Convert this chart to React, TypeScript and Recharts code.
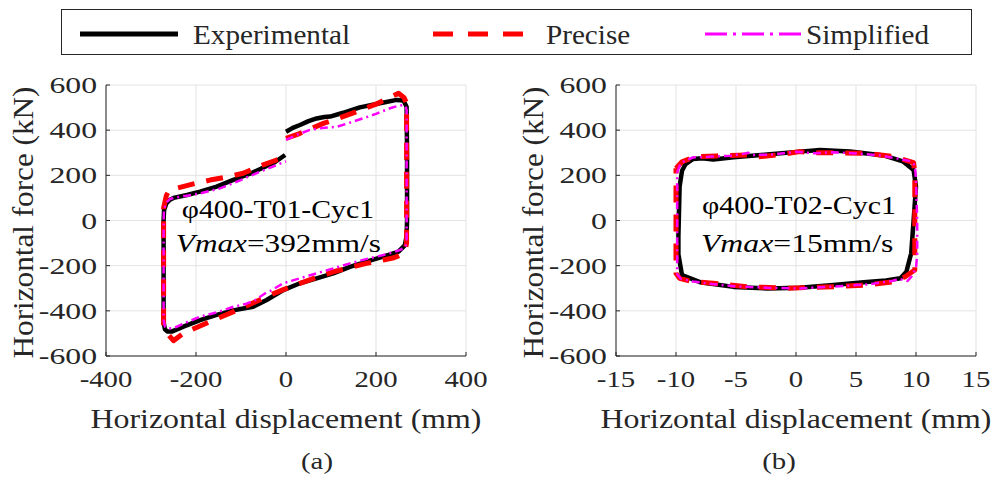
import {
  CartesianGrid,
  Legend,
  Line,
  LineChart,
  ReferenceDot,
  XAxis,
  YAxis,
} from 'recharts';

type Pt = { x: number; y: number };

const SERIF = "'Liberation Serif', 'Times New Roman', serif";
const INK = '#262626';

// (a) φ400-T01-Cyc1 — displacement (mm), force (kN)
const expA = [
  [0, 393], [15, 410], [31, 423], [50, 440], [68, 452], [85, 458], [98, 460],
  [127, 477], [164, 501], [209, 519], [246, 534], [261, 531], [268, 504],
  [269, 300], [269, 0], [268, -70], [264, -110], [250, -138], [216, -160],
  [179, -182], [142, -205], [105, -234], [68, -256], [31, -278], [-6, -308],
  [-43, -352], [-73, -382], [-95, -390], [-117, -398], [-154, -418],
  [-191, -441], [-228, -470], [-254, -492], [-264, -491], [-269, -482],
  [-272, -450], [-272, -200], [-272, 0], [-271, 45], [-266, 75], [-258, 92],
  [-250, 100], [-220, 113], [-191, 128], [-154, 150], [-117, 180],
  [-80, 207], [-50, 235], [-25, 258], [-2, 290],
];
const preA = [
  [0, 364], [30, 385], [60, 410], [83, 430], [120, 455], [157, 482],
  [200, 515], [225, 540], [250, 563], [262, 545], [268, 520], [268, 0],
  [268, -100], [265, -130], [258, -150], [240, -165], [216, -175],
  [179, -190], [142, -208], [105, -227], [68, -252], [31, -278], [-6, -306],
  [-43, -337], [-70, -362], [-95, -385], [-130, -415], [-169, -448],
  [-200, -475], [-228, -500], [-250, -532], [-268, -490], [-272, -470],
  [-272, 0], [-272, 55], [-266, 110], [-260, 132], [-243, 143], [-210, 160],
  [-169, 179], [-130, 193], [-95, 209], [-60, 240], [-21, 268], [0, 283],
];
const simA = [
  [0, 357], [25, 380], [53, 401], [80, 410], [113, 415], [140, 432],
  [172, 453], [200, 472], [231, 497], [250, 508], [261, 511], [266, 505],
  [268, 490], [268, -100], [265, -118], [253, -131], [230, -145],
  [216, -153], [180, -170], [142, -190], [105, -212], [68, -234], [31, -256],
  [-6, -278], [-35, -312], [-43, -318], [-70, -354], [-90, -370],
  [-117, -382], [-150, -405], [-191, -426], [-220, -450], [-250, -477],
  [-262, -478], [-269, -470], [-272, -440], [-272, 0], [-271, 50],
  [-266, 80], [-258, 95], [-250, 100], [-220, 110], [-191, 120],
  [-150, 140], [-117, 165], [-90, 188], [-58, 216], [-30, 238], [0, 262],
];

// (b) φ400-T02-Cyc1
const expB = [
  [-9.7, 150], [-9.5, 220], [-9.2, 250], [-8.6, 272], [-7.8, 276],
  [-6.9, 270], [-5.2, 280], [-2.4, 292], [0.3, 305], [2, 312], [4.5, 306],
  [7.3, 288], [8.9, 262], [9.8, 224], [10, 150], [9.9, 76], [9.8, 0],
  [9.6, -145], [9.2, -227], [8.7, -256], [7.5, -266], [5.9, -272],
  [3.1, -286], [0.3, -298], [-2.4, -301], [-5.2, -294], [-8, -273],
  [-9.5, -242], [-9.8, -150], [-9.8, -72], [-9.7, 150],
];
const preB = [
  [-10, 231], [-9.5, 260], [-8.4, 283], [-6.6, 286], [-4.1, 290],
  [-3.6, 280], [-1.6, 290], [0.3, 305], [1.4, 300], [3.1, 300], [5.9, 297],
  [8.1, 283], [9.8, 256], [9.9, 209], [9.9, 0], [9.9, -219], [9.1, -249],
  [8.1, -271], [5.9, -286], [3.1, -293], [-0.8, -300], [-4.1, -293],
  [-6.9, -278], [-8.6, -271], [-9.7, -256], [-10, -234], [-10, 0],
  [-10, 231],
];
const simB = [
  [-9.9, 215], [-9.6, 255], [-8.6, 279], [-7, 283], [-5.5, 287],
  [-4.3, 296], [-4, 300], [-3.6, 290], [-2, 292], [0, 304], [1.5, 298],
  [3.1, 302], [5, 297], [7, 288], [8.5, 274], [9.6, 262], [9.9, 245],
  [10, 180], [10.1, 0], [10.1, -150], [10, -210], [9.6, -250], [9.3, -268],
  [8.6, -258], [8, -268], [6, -283], [3.1, -293], [0.3, -301], [-2.4, -298],
  [-5.2, -291], [-7, -281], [-8.6, -270], [-9.6, -258], [-9.9, -238],
  [-9.9, 0], [-9.9, 215],
];

const yTicks = [-600, -400, -200, 0, 200, 400, 600];
const xTicksA = [-400, -200, 0, 200, 400];
const xTicksB = [-15, -10, -5, 0, 5, 10, 15];

const seriesNames = ['Experimental', 'Precise', 'Simplified'];

const toPts = (a: number[][]): Pt[] => a.map(([x, y]) => ({ x, y }));

const SERIES = [
  { color: '#000000', width: 4.5, dash: undefined, legendWidth: 5, legendDash: undefined },
  { color: '#ff0000', width: 5, dash: '17 12', legendWidth: 5, legendDash: '20 15' },
  { color: '#ff00ff', width: 2.5, dash: '8 4 2 4', legendWidth: 3, legendDash: '22 6 3 6' },
];

const SText = ({ x, y, sx = 1, rotate = 0, children, ...rest }: any) => (
  <text
    x={x}
    y={y}
    transform={`translate(${x} ${y}) rotate(${rotate}) scale(${sx} 1) translate(${-x} ${-y})`}
    fontFamily={SERIF}
    fill={INK}
    {...rest}
  >
    {children}
  </text>
);

const XTick = ({ x, y, payload }: any) => (
  <SText x={x} y={y} dy="0.71em" textAnchor="middle" fontSize={23} sx={1.25}>
    {payload.value}
  </SText>
);

const YTick = ({ x, y, payload }: any) => (
  <SText x={x} y={y} dy="0.35em" textAnchor="end" fontSize={23} sx={1.38}>
    {payload.value}
  </SText>
);

const NoTick = () => <g />;

const LEGEND_KEYS = [
  { x: 19, len: 98, tx: 132 },
  { x: 372, len: 91, tx: 485 },
  { x: 644, len: 99, tx: 745 },
];

const LegendBox = ({ payload }: any) => (
  <svg width={911} height={46} style={{ display: 'block' }}>
    <rect x={0.5} y={0.5} width={910} height={45} fill="#fff" stroke={INK} />
    {(payload ?? []).map((e: any) => {
      const i = seriesNames.indexOf(e.value);
      const k = LEGEND_KEYS[i];
      const s = SERIES[i];
      return (
        <g key={e.value}>
          <line
            x1={k.x}
            x2={k.x + k.len}
            y1={25}
            y2={25}
            stroke={s.color}
            strokeWidth={s.legendWidth}
            strokeDasharray={s.legendDash}
          />
          <SText x={k.tx} y={35} fontSize={27} sx={1.08}>
            {e.value}
          </SText>
        </g>
      );
    })}
  </svg>
);

type Note = { x: number; y: number; lead?: string; text: string; sx: number };

const notesA: Note[] = [
  { x: -18, y: 11, text: 'φ400-T01-Cyc1', sx: 1.19 },
  { x: -17, y: -140, lead: 'Vmax', text: '=392mm/s', sx: 1.25 },
];
const notesB: Note[] = [
  { x: 0.25, y: 29, text: 'φ400-T02-Cyc1', sx: 1.2 },
  { x: 0.1, y: -140, lead: 'Vmax', text: '=15mm/s', sx: 1.27 },
];

type PanelProps = {
  left: number;
  marginLeft: number;
  marginRight: number;
  xDomain: [number, number];
  xTicks: number[];
  data: number[][][];
  notes: Note[];
  caption: string;
  captionDx: number;
  legend?: boolean;
};

const Panel = ({
  left,
  marginLeft,
  marginRight,
  xDomain,
  xTicks,
  data,
  notes,
  caption,
  captionDx,
  legend,
}: PanelProps) => (
  <div style={{ position: 'absolute', left, top: 0 }}>
    <LineChart
      width={496}
      height={480}
      margin={{ top: 85, right: marginRight, bottom: 94, left: marginLeft }}
    >
      <CartesianGrid stroke="#e3e3e3" strokeWidth={1} />
      <XAxis
        dataKey="x"
        type="number"
        domain={xDomain}
        ticks={xTicks}
        height={30}
        stroke={INK}
        tickSize={-4}
        tickMargin={19}
        tick={XTick}
        label={(p: any) => {
          const { x, y, width } = p.viewBox;
          return (
            <g>
              <SText x={x + width / 2} y={y + 72} textAnchor="middle" fontSize={27} sx={1.18}>
                Horizontal displacement (mm)
              </SText>
              <SText
                x={x + width / 2 + captionDx}
                y={y + 113}
                textAnchor="middle"
                fontSize={24}
                sx={1.2}
              >
                {caption}
              </SText>
            </g>
          );
        }}
      />
      <XAxis
        xAxisId="top"
        orientation="top"
        type="number"
        domain={xDomain}
        ticks={xTicks}
        height={0}
        stroke={INK}
        tickSize={-4}
        tick={NoTick}
      />
      <YAxis
        type="number"
        domain={[-600, 600]}
        ticks={yTicks}
        width={60}
        stroke={INK}
        tickSize={-4}
        tickMargin={13}
        tick={YTick}
        label={(p: any) => {
          const { x, y, width, height } = p.viewBox;
          const bx = x + width - 73;
          const cy = y + height / 2 + 2;
          return (
            <SText x={bx} y={cy} rotate={-90} textAnchor="middle" fontSize={30} sx={1.04}>
              Horizontal force (kN)
            </SText>
          );
        }}
      />
      <YAxis
        yAxisId="right"
        orientation="right"
        type="number"
        domain={[-600, 600]}
        ticks={yTicks}
        width={0}
        stroke={INK}
        tickSize={-4}
        tick={NoTick}
      />
      {data.map((d, i) => (
        <Line
          key={seriesNames[i]}
          name={seriesNames[i]}
          data={toPts(d)}
          dataKey="y"
          type="linear"
          stroke={SERIES[i].color}
          strokeWidth={SERIES[i].width}
          strokeDasharray={SERIES[i].dash}
          strokeLinejoin="round"
          dot={false}
          activeDot={false}
          isAnimationActive={false}
        />
      ))}
      {notes.map((n) => (
        <ReferenceDot
          key={n.text}
          x={n.x}
          y={n.y}
          r={0}
          fill="none"
          stroke="none"
          label={(p: any) => (
            <SText
              x={p.viewBox.x}
              y={p.viewBox.y}
              textAnchor="middle"
              fontSize={25}
              sx={n.sx}
              fill="#000"
            >
              {n.lead ? <tspan fontStyle="italic">{n.lead}</tspan> : null}
              {n.text}
            </SText>
          )}
        />
      ))}
      {legend ? (
        <Legend
          layout="horizontal"
          verticalAlign="middle"
          align="center"
          wrapperStyle={{ top: 9, left: 61, width: 911, height: 46 }}
          content={LegendBox}
        />
      ) : null}
    </LineChart>
  </div>
);

export default function App() {
  return (
    <div
      style={{
        position: 'absolute',
        left: 0,
        top: 0,
        width: 993,
        height: 480,
        background: '#fff',
      }}
    >
      <Panel
        left={0}
        marginLeft={46}
        marginRight={30}
        xDomain={[-400, 400]}
        xTicks={xTicksA}
        data={[expA, preA, simA]}
        notes={notesA}
        caption="(a)"
        captionDx={31}
        legend
      />
      <Panel
        left={497}
        marginLeft={59}
        marginRight={17}
        xDomain={[-15, 15]}
        xTicks={xTicksB}
        data={[expB, preB, simB]}
        notes={notesB}
        caption="(b)"
        captionDx={-17}
      />
    </div>
  );
}
